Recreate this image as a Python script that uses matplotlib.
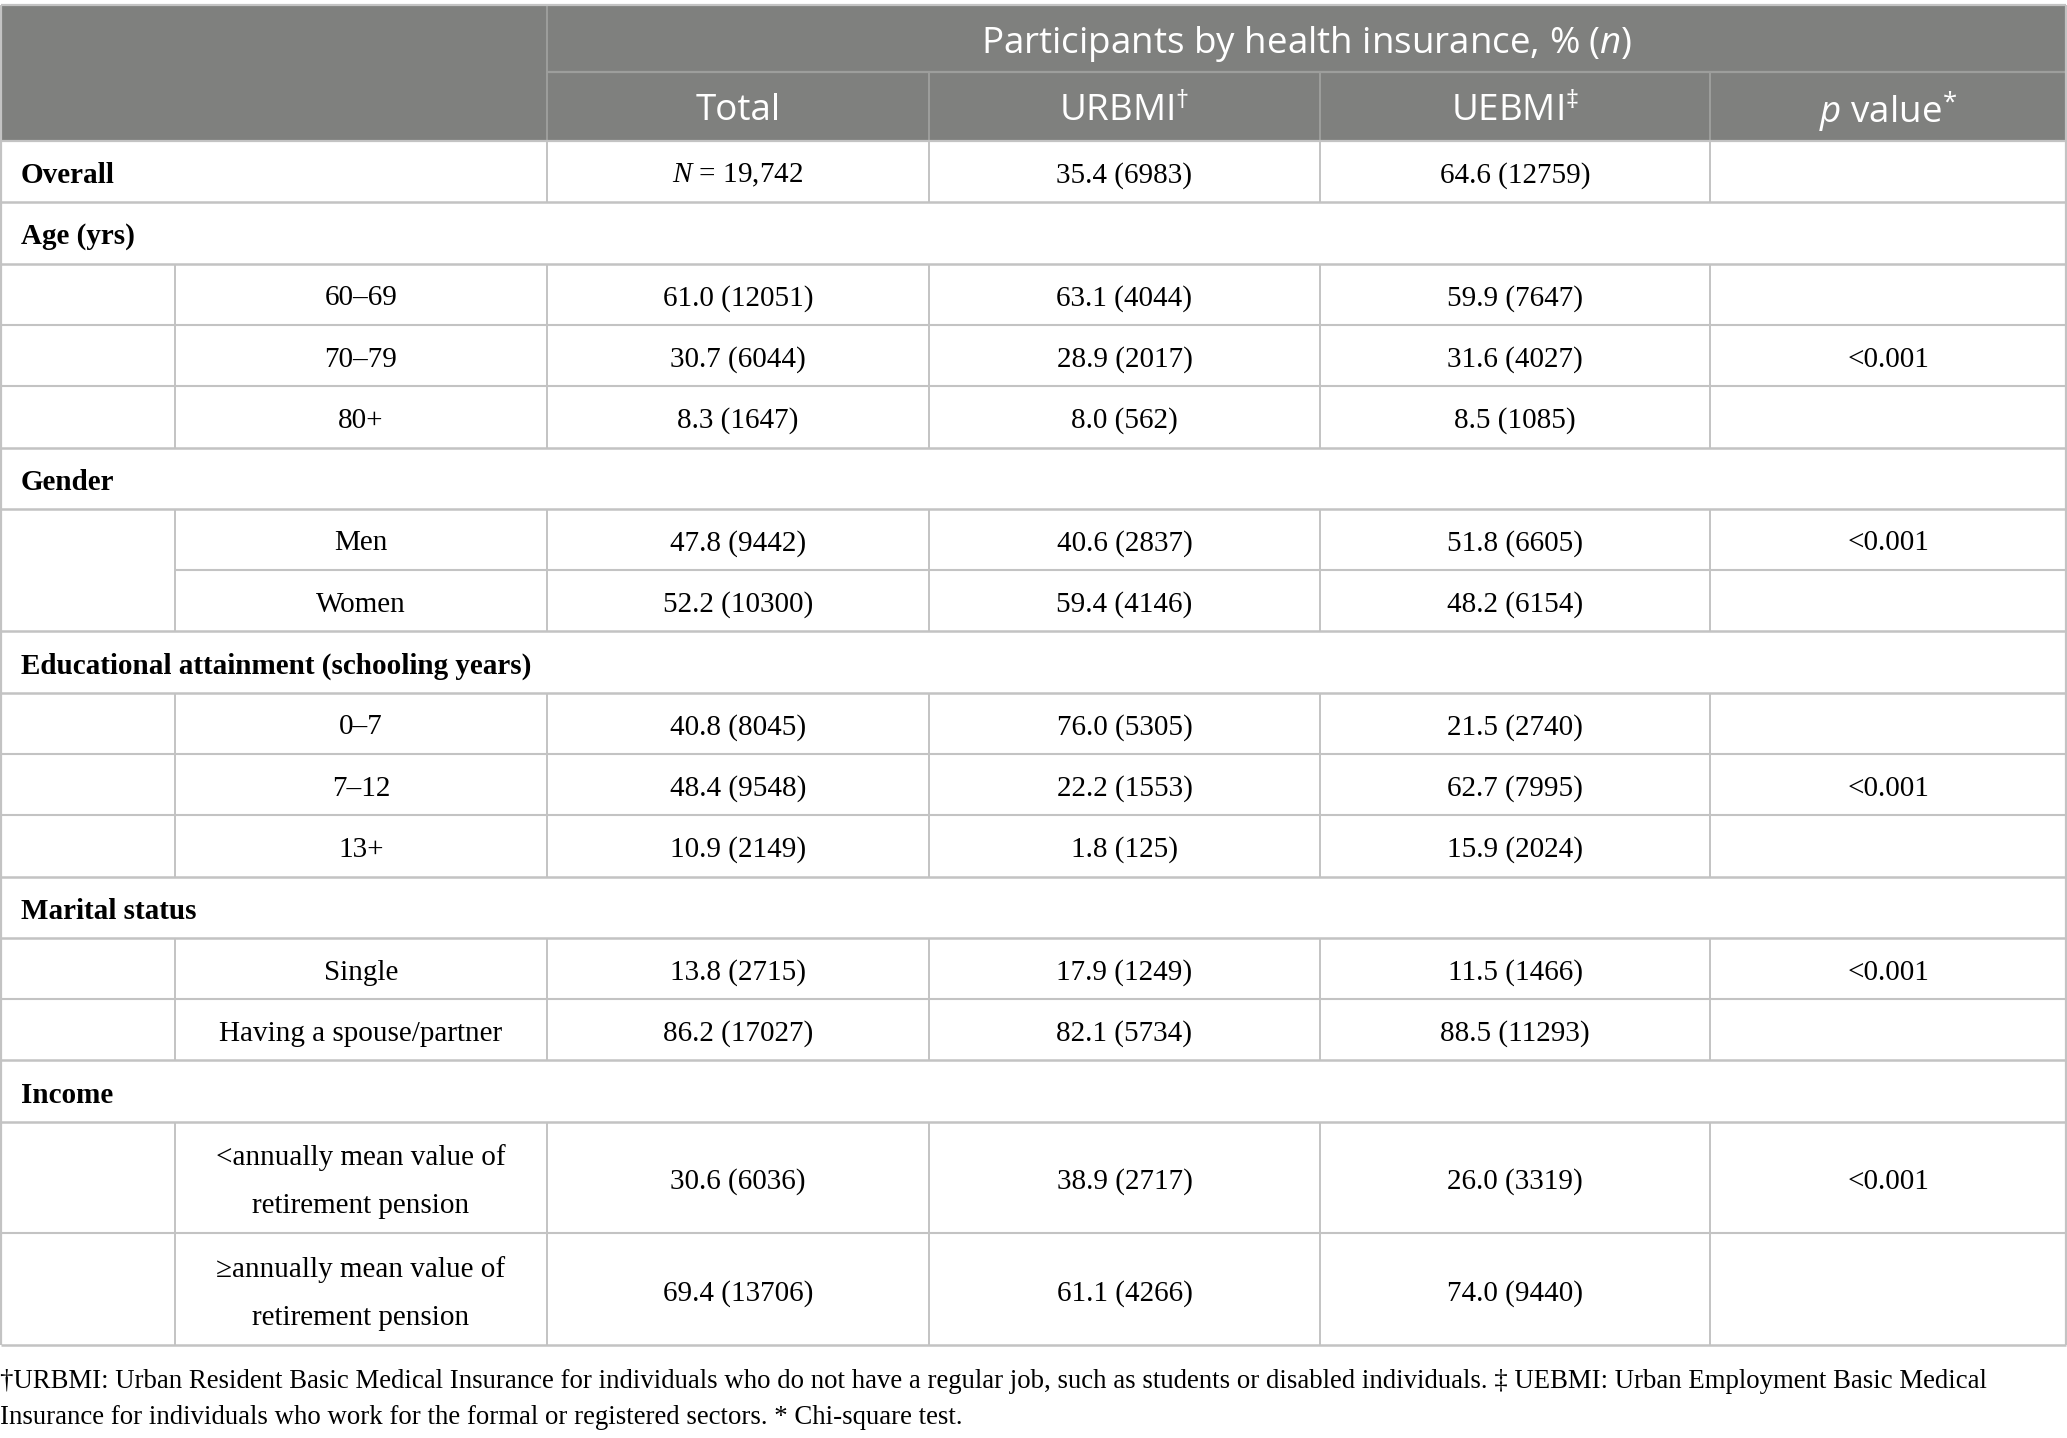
import matplotlib
matplotlib.use('Agg')
import matplotlib.pyplot as plt
from matplotlib.patches import Rectangle

header_top = 'Participants by health insurance, % ($\\mathsf{n}$)'
col_heads = ['Total', 'URBMI$^{\u2020}$', 'UEBMI$^{\u2021}$', '$\\mathsf{p}$ value$^{*}$']

overall_vals = ['$N$ = 19,742', '35.4 (6983)', '64.6 (12759)', '']

sections = ['Age (yrs)', 'Gender', 'Educational attainment (schooling years)',
            'Marital status', 'Income']
section_sizes = [3, 2, 3, 2, 2]
merged_sections = ['Gender']

sub_labels = ['60\u201369', '70\u201379', '80+',
              'Men', 'Women',
              '0\u20137', '7\u201312', '13+',
              'Single', 'Having a spouse/partner',
              '<annually mean value of\nretirement pension',
              '\u2265annually mean value of\nretirement pension']
total_vals = ['61.0 (12051)', '30.7 (6044)', '8.3 (1647)',
              '47.8 (9442)', '52.2 (10300)',
              '40.8 (8045)', '48.4 (9548)', '10.9 (2149)',
              '13.8 (2715)', '86.2 (17027)',
              '30.6 (6036)', '69.4 (13706)']
urbmi_vals = ['63.1 (4044)', '28.9 (2017)', '8.0 (562)',
              '40.6 (2837)', '59.4 (4146)',
              '76.0 (5305)', '22.2 (1553)', '1.8 (125)',
              '17.9 (1249)', '82.1 (5734)',
              '38.9 (2717)', '61.1 (4266)']
uebmi_vals = ['59.9 (7647)', '31.6 (4027)', '8.5 (1085)',
              '51.8 (6605)', '48.2 (6154)',
              '21.5 (2740)', '62.7 (7995)', '15.9 (2024)',
              '11.5 (1466)', '88.5 (11293)',
              '26.0 (3319)', '74.0 (9440)']
p_vals = ['', '<0.001', '',
          '<0.001', '',
          '', '<0.001', '',
          '<0.001', '',
          '<0.001', '']

footnotes = ['\u2020URBMI: Urban Resident Basic Medical Insurance for individuals who do not have a regular job, such as students or disabled individuals. \u2021 UEBMI: Urban Employment Basic Medical',
             'Insurance for individuals who work for the formal or registered sectors. * Chi-square test.']

# ---- style ----
plt.rcParams['mathtext.fontset'] = 'custom'
plt.rcParams['mathtext.rm'] = 'Open Sans'
plt.rcParams['mathtext.it'] = 'Liberation Serif:italic'
plt.rcParams['mathtext.sf'] = 'Open Sans:italic'

serif = 'Liberation Serif'
sans = 'Open Sans'
body_fs = 21
head_fs = 26.5
foot_fs = 19.3
head_bg = '#7f807e'
head_line = '#9d9e9c'
grid = '#c3c3c3'
dy = 4  # push text down a bit so it sits like the reference

W, H = 2067, 1438
fig = plt.figure(figsize=(W / 100, H / 100), dpi=100)
ax = fig.add_axes([0, 0, 1, 1])
ax.set_xlim(0, W)
ax.set_ylim(H, 0)
ax.axis('off')

xs = [1, 175, 547, 929, 1320, 1710, 2066]
top, h1, h2 = 5, 72, 141
rh = 61.3
rh2 = 111.5

# header
ax.add_patch(Rectangle((xs[0], top), xs[-1] - xs[0], h2 - top, color=head_bg, lw=0))
ax.hlines(h1, xs[2], xs[-1], color=head_line, lw=1.6)
ax.vlines(xs[2], top, h2, color=head_line, lw=1.4)
ax.vlines(xs[3:6], h1, h2, color=head_line, lw=1.4)
ax.text((xs[2] + xs[-1]) / 2, (top + h1) / 2 + 5, header_top, fontsize=head_fs,
        family=sans, color='white', ha='center', va='center')
for k, lab in enumerate(col_heads):
    ax.text((xs[k + 2] + xs[k + 3]) / 2, (h1 + h2) / 2 + 5, lab, fontsize=head_fs,
            family=sans, color='white', ha='center', va='center')

ax.hlines(top, xs[0], xs[-1], color=grid, lw=1.6)
ax.hlines(h2, xs[0], xs[-1], color=grid, lw=1.6)

def cell_row(y0, y1, vals):
    yc = (y0 + y1) / 2 + dy
    for k, v in enumerate(vals):
        ax.text((xs[k + 2] + xs[k + 3]) / 2, yc, v, fontsize=body_fs, family=serif,
                ha='center', va='center')
    ax.vlines(xs[2:6], y0, y1, color=grid, lw=1.4)

# overall row
y = h2
ax.text(21, y + rh / 2 + dy, 'Overall', fontsize=body_fs, family=serif, weight='bold',
        ha='left', va='center')
cell_row(y, y + rh, overall_vals)
y += rh
ax.hlines(y, xs[0], xs[-1], color=grid, lw=1.8)

i = 0
for sec, n in zip(sections, section_sizes):
    ax.text(21, y + rh / 2 + dy, sec, fontsize=body_fs, family=serif, weight='bold',
            ha='left', va='center')
    y += rh
    ax.hlines(y, xs[0], xs[-1], color=grid, lw=1.8)
    for j in range(n):
        lab = sub_labels[i]
        hh = rh2 if '\n' in lab else rh
        ax.text((xs[1] + xs[2]) / 2, y + hh / 2 + dy, lab, fontsize=body_fs, family=serif,
                ha='center', va='center', linespacing=2.1)
        cell_row(y, y + hh, [total_vals[i], urbmi_vals[i], uebmi_vals[i], p_vals[i]])
        ax.vlines(xs[1], y, y + hh, color=grid, lw=1.4)
        y += hh
        last = j == n - 1
        x0 = xs[1] if (sec in merged_sections and not last) else xs[0]
        ax.hlines(y, x0, xs[-1], color=grid, lw=1.8 if last else 1.5)
        i += 1

bottom = y
ax.vlines([xs[0], xs[-1]], top, bottom, color=grid, lw=1.6)

ax.text(0, 1381, footnotes[0], fontsize=foot_fs, family=serif, ha='left', va='center')
ax.text(0, 1417, footnotes[1], fontsize=foot_fs, family=serif, ha='left', va='center')

plt.savefig('out.png', dpi=100)
plt.close()
